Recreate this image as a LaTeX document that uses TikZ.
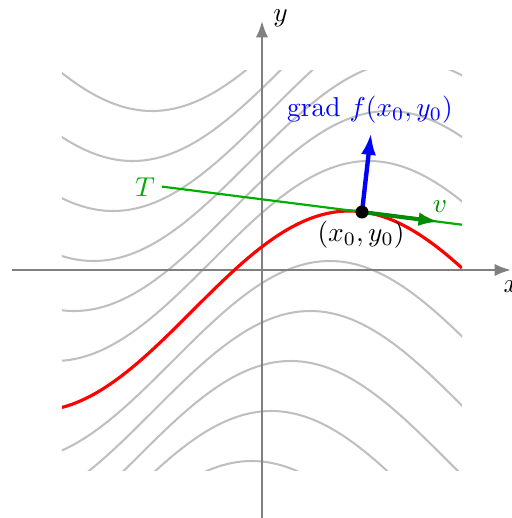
\documentclass[tikz,border=0pt]{standalone}
\usetikzlibrary{arrows.meta}
\definecolor{axisgray}{gray}{0.5}
\definecolor{levelgray}{gray}{0.75}
\definecolor{tangreen}{rgb}{0,0.68,0}
\definecolor{vgreen}{rgb}{0,0.55,0}
\begin{document}
\begin{tikzpicture}[x=36.6pt,y=36.6pt,
  axisline/.style={axisgray, line width=0.8pt, -{Latex[length=6pt,width=4.5pt]}},
  levelcurve/.style={levelgray, line width=0.75pt},
  redcurve/.style={red, line width=1.15pt},
  tangentline/.style={tangreen, line width=0.8pt},
  gradarrow/.style={blue, line width=1.6pt, -{Latex[length=8pt,width=5.5pt]}},
  varrow/.style={vgreen, line width=1.5pt, -{Latex[length=7.5pt,width=5pt]}},
  lbl/.style={inner sep=1pt}]
\useasboundingbox (-2.62,-2.48) rectangle (2.50,2.70);

% level curves
\begin{scope}
  \clip (-2,-2) rectangle (2,2);
  \foreach \k in {-5,-4,-3,-2,-1,1,2,3,4,5,6} {
    \pgfmathsetmacro\cv{-0.41+0.5*\k}
    \pgfmathsetmacro\sv{-0.698+0.195*\k}
    \draw[levelcurve] plot[domain=-2.05:2.05, samples=90, smooth]
      (\x, {\cv + sin(deg(\x - \sv))});
  }
\end{scope}

% axes
\coordinate (xs) at (-2.50,0);
\coordinate (xe) at (2.49,0);
\coordinate (ys) at (0,-2.48);
\coordinate (ye) at (0,2.49);
\draw[axisline] (xs) -- (xe);
\draw[axisline] (ys) -- (ye);
\node[lbl, anchor=north west, inner sep=0pt] (xl) at (2.41,-0.10) {$x$};
\node[lbl, anchor=west] (yl) at (0.08,2.52) {$y$};

% red level curve
\begin{scope}
  \clip (-2,-2) rectangle (2,2);
  \draw[redcurve] plot[domain=-2:2, samples=90, smooth]
    (\x, {-0.41 + sin(deg(\x + 0.698))});
\end{scope}

% tangent line
\coordinate (P) at (1.0,0.58);
\coordinate (T1) at (-1.0,0.834);
\coordinate (T2) at (2.0,0.453);
\draw[tangentline] (T1) -- (T2);
\node[lbl, tangreen] (Tl) at (-1.17,0.83) {$T$};

% vectors
\coordinate (G) at (1.09,1.37);
\coordinate (V) at (1.77,0.482);
\draw[varrow] (P) -- (V);
\draw[gradarrow] (P) -- (G);
\fill (P) circle (0.065);

\node[lbl, vgreen] (vl) at (1.78,0.63) {$v$};
\node[lbl, blue] (gl) at (1.08,1.60) {grad $f(x_0,y_0)$};
\node[lbl] (pl) at (0.99,0.35) {$(x_0,y_0)$};
\end{tikzpicture}
\end{document}
